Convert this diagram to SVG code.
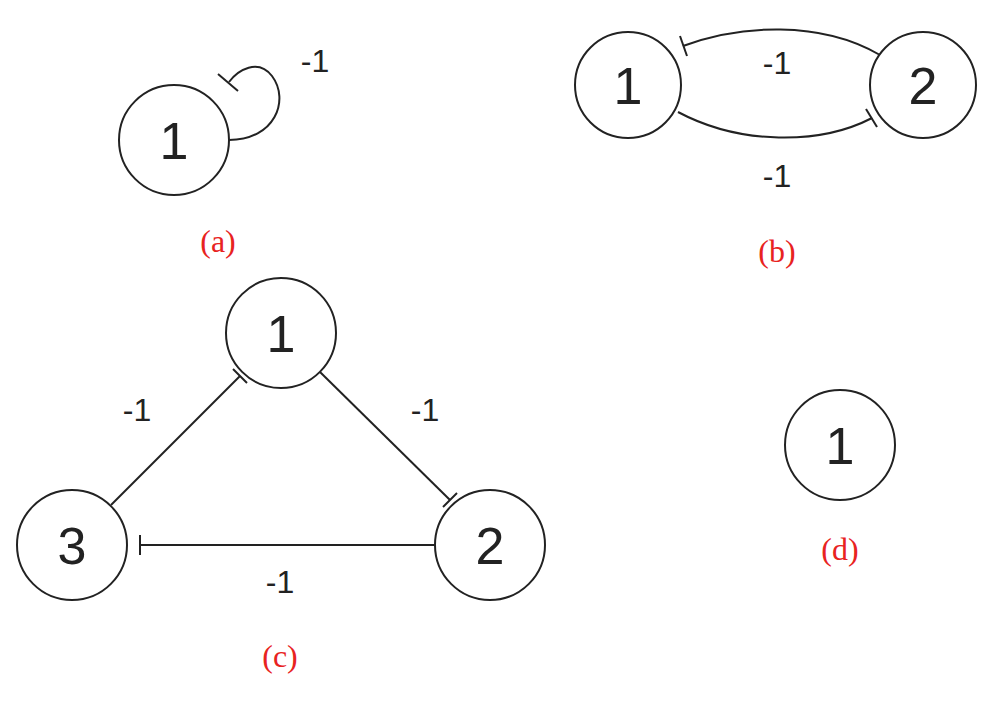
<svg xmlns="http://www.w3.org/2000/svg" width="1000" height="710" viewBox="0 0 1000 710">
<style>
.n{fill:#fff;stroke:#222;stroke-width:2}
.t{font-family:"Liberation Sans",Arial,sans-serif;font-size:52px;fill:#222;text-anchor:middle}
.w{font-family:"Liberation Sans",Arial,sans-serif;font-size:32px;fill:#222;text-anchor:middle}
.c{font-family:"Liberation Serif","Times New Roman",serif;font-size:32px;fill:#e8231f;text-anchor:middle}
.e{fill:none;stroke:#222;stroke-width:2}
</style>
<rect width="1000" height="710" fill="#fff"/>
<g id="connectors">
<path class="e" d="M229,140 C275,140 290,100 272,76 C258,58 238,70 229,82"/>
<path class="e" d="M218,74 L238,91"/>
<path class="e" d="M880,55 C820,20 740,25 683,46"/>
<path class="e" d="M680,36 L687,56"/>
<path class="e" d="M678,112 C740,145 820,145 872,118"/>
<path class="e" d="M866,109 L877,127"/>
<path class="e" d="M320,372 L450,500"/>
<path class="e" d="M443,507 L457,493"/>
<path class="e" d="M111,505 L240,376"/>
<path class="e" d="M233,369 L247,383"/>
<path class="e" d="M435,545 L140,545"/>
<path class="e" d="M140,535 L140,555"/>
</g>
<g id="a1"><circle class="n" cx="174" cy="140" r="55"/><text class="t" x="174" y="159">1</text></g>
<text class="w" x="315" y="72">-1</text>
<text class="c" x="218" y="252">(a)</text>
<g id="b1"><circle class="n" cx="628" cy="85" r="53"/><text class="t" x="628" y="104">1</text></g>
<g id="b2"><circle class="n" cx="923" cy="85" r="53"/><text class="t" x="923" y="104">2</text></g>
<text class="w" x="777" y="74">-1</text>
<text class="w" x="777" y="187">-1</text>
<text class="c" x="777" y="262">(b)</text>
<g id="c1"><circle class="n" cx="281" cy="333" r="55"/><text class="t" x="281" y="352">1</text></g>
<g id="c2"><circle class="n" cx="490" cy="545" r="55"/><text class="t" x="490" y="564">2</text></g>
<g id="c3"><circle class="n" cx="72" cy="545" r="55"/><text class="t" x="72" y="564">3</text></g>
<text class="w" x="137" y="421">-1</text>
<text class="w" x="425" y="421">-1</text>
<text class="w" x="280" y="593">-1</text>
<text class="c" x="280" y="667">(c)</text>
<g id="d1"><circle class="n" cx="840" cy="445" r="55"/><text class="t" x="840" y="464">1</text></g>
<text class="c" x="840" y="560">(d)</text>
</svg>
